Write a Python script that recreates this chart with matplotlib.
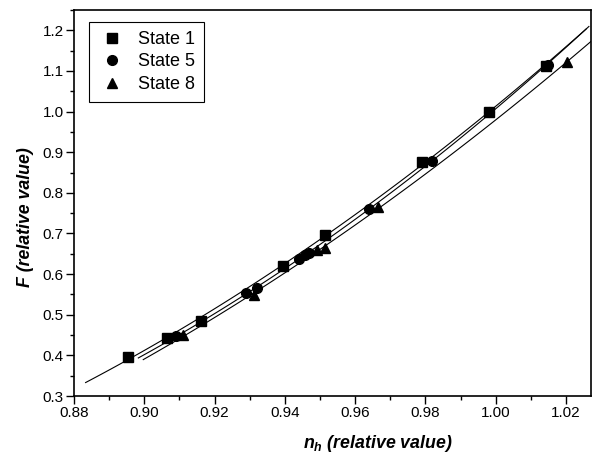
import numpy as np
import matplotlib
matplotlib.use("Agg")
import matplotlib.pyplot as plt
from matplotlib.ticker import MultipleLocator, FormatStrFormatter

plt.rcParams["font.family"] = ["Liberation Sans", "DejaVu Sans"]
plt.rcParams["mathtext.fontset"] = "custom"
plt.rcParams["mathtext.it"] = "Liberation Sans:italic:bold"
plt.rcParams["mathtext.rm"] = "Liberation Sans:bold"

# State 1 (squares)
nh_s1 = [0.8954, 0.9065, 0.9160, 0.9395, 0.9513, 0.9790, 0.9980, 1.0143]
f_s1 = [0.397, 0.443, 0.485, 0.619, 0.696, 0.876, 1.000, 1.113]
# State 5 (circles)
nh_s5 = [0.9090, 0.9290, 0.9320, 0.9440, 0.9456, 0.9470, 0.9640, 0.9819, 0.9980, 1.0150]
f_s5 = [0.447, 0.553, 0.567, 0.638, 0.646, 0.651, 0.760, 0.878, 1.000, 1.115]
# State 8 (triangles)
nh_s8 = [0.9110, 0.9312, 0.9490, 0.9513, 0.9665, 1.0204]
f_s8 = [0.449, 0.548, 0.659, 0.665, 0.764, 1.123]

# x range of each fitted curve
fit_range = {"State 1": (0.8833, 1.0258), "State 5": (0.8983, 1.0265), "State 8": (0.8997, 1.030)}

fig = plt.figure(figsize=(5.94, 4.61), dpi=100)
ax = fig.add_axes([74 / 594, 1 - 396 / 461, 517 / 594, 386 / 461])

series = [("State 1", nh_s1, f_s1, "s", 6.5),
          ("State 5", nh_s5, f_s5, "o", 7),
          ("State 8", nh_s8, f_s8, "^", 7.5)]

for name, x, y, mk, ms in series:
    ax.plot(x, y, linestyle="none", marker=mk, markersize=ms, color="black", label=name)
    coef = np.polyfit(x, y, 2)
    xs = np.linspace(*fit_range[name], 100)
    ax.plot(xs, np.polyval(coef, xs), color="black", linewidth=0.8)

ax.set_xlim(0.88, 1.0271)
ax.set_ylim(0.3, 1.25)
ax.xaxis.set_major_locator(MultipleLocator(0.02))
ax.xaxis.set_minor_locator(MultipleLocator(0.01))
ax.yaxis.set_major_locator(MultipleLocator(0.1))
ax.yaxis.set_minor_locator(MultipleLocator(0.05))
ax.xaxis.set_major_formatter(FormatStrFormatter("%.2f"))
ax.yaxis.set_major_formatter(FormatStrFormatter("%.1f"))
ax.tick_params(which="both", direction="out", width=1, labelsize=11, top=False, right=False, pad=1.5)
ax.tick_params(which="major", length=6)
ax.tick_params(which="minor", length=3)
for sp in ax.spines.values():
    sp.set_linewidth(1.2)

ax.set_xlabel(r"$n_h$ (relative value)", fontsize=12.8, fontweight="bold", style="italic", labelpad=9)
ax.set_ylabel("F (relative value)", fontsize=12.8, fontweight="bold", style="italic", labelpad=6)
ax.xaxis.label.set_x(0.588)
ax.yaxis.label.set_y(0.464)

leg = ax.legend(loc="upper left", bbox_to_anchor=(0.029, 0.969), borderaxespad=0,
                fontsize=13, fancybox=False, edgecolor="black", framealpha=1,
                handlelength=1.55, handletextpad=0.66, labelspacing=0.3, borderpad=0.5)
leg.get_frame().set_linewidth(0.8)

fig.savefig("out.png", dpi=100)
